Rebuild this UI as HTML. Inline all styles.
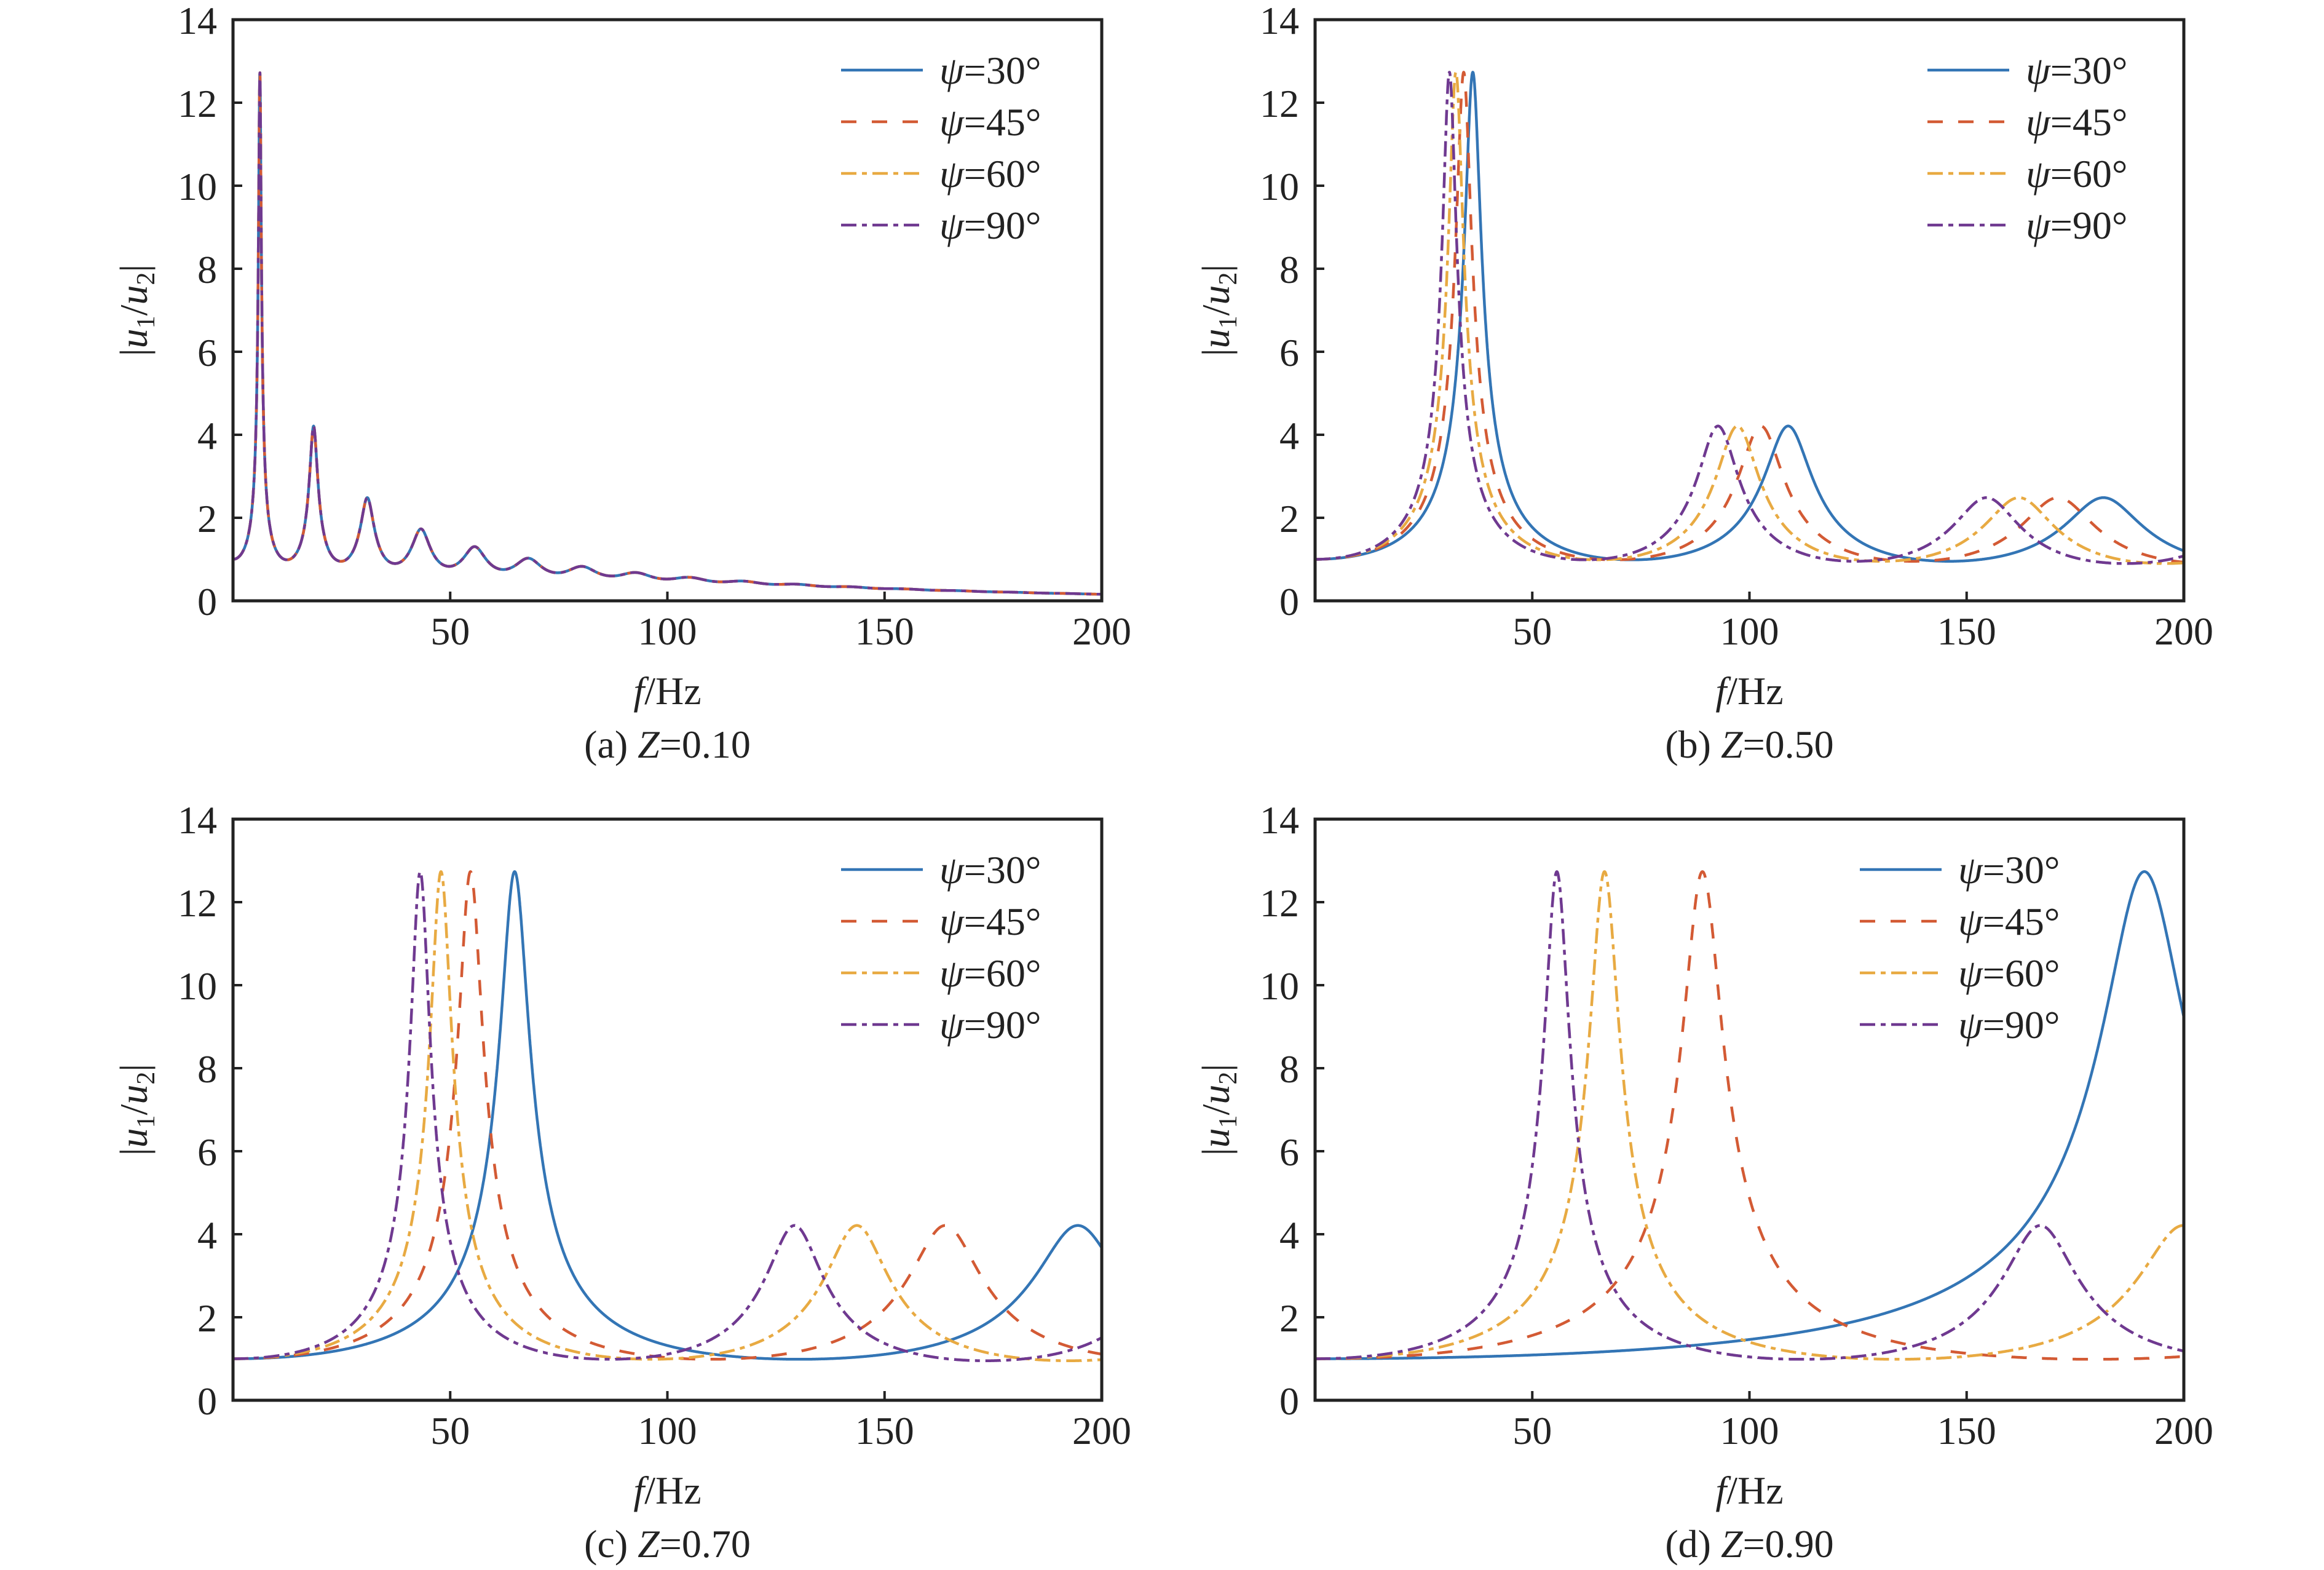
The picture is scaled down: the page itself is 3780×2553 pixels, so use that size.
<!DOCTYPE html>
<html><head><meta charset="utf-8">
<style>
html,body{margin:0;padding:0;background:#fff;}
svg, svg text{font-family:"Liberation Serif","Times New Roman",serif;}
</style></head>
<body>
<svg id="fig" width="3780" height="2548" viewBox="0 0 3780 2548" xmlns="http://www.w3.org/2000/svg" font-family="Liberation Serif, serif"></svg>
<script>
// ---- data ----
const seriesLabels = ["30", "45", "60", "90"];
const panelLetters = ["a", "b", "c", "d"];
const panelZ = ["0.10", "0.50", "0.70", "0.90"];
// fundamental resonance frequency (Hz) of each series, per panel
const fundamentalA = [6.2, 6.2, 6.2, 6.2];
const fundamentalB = [36.4, 34.3, 32.5, 31.0];
const fundamentalC = [65.0, 54.8, 48.0, 43.2];
const fundamentalD = [191.4, 89.4, 66.8, 55.8];
const dampingRatio = [0.05, 0.05, 0.05, 0.05];
const xTicks = [50, 100, 150, 200];
const yTicks = [0, 2, 4, 6, 8, 10, 12, 14];

const colors = ["#3375b5", "#d35a34", "#e8aa42", "#6f3990"];
const dashes = ["none", "25,25", "25,9,8,9", "25,9,8,9"];
const NS = "http://www.w3.org/2000/svg";
const FONT = "Liberation Serif, Times New Roman, serif";
const svg = document.getElementById("fig");
function mk(tag, attrs, parent) {
  const e = document.createElementNS(NS, tag);
  for (const k in attrs) e.setAttribute(k, attrs[k]);
  if (tag === "text") e.setAttribute("font-family", FONT);
  (parent || svg).appendChild(e);
  return e;
}
const W = 1413, H = 945;
const origins = [[379, 32], [2139, 32], [379, 1332], [2139, 1332]];
const legendX = [1368, 3135, 1368, 3025];
const fundamentals = [fundamentalA, fundamentalB, fundamentalC, fundamentalD];

function response(f, f1, xi) {
  const x = Math.PI / 2 * f / f1;
  const c = Math.cos(x), s = Math.sinh(xi * x);
  return 1 / Math.sqrt(c * c + s * s);
}

for (let p = 0; p < 4; p++) {
  const [L, T] = origins[p];
  const R = L + W, B = T + H;
  const sx = v => L + v / 200 * W;
  const sy = v => B - v / 14 * H;
  const g = mk("g", {});
  
  
  const cp = mk("clipPath", { id: "clip" + p }, g);
  mk("rect", { x: L, y: T, width: W, height: H }, cp);

  const cg = mk("g", { "clip-path": "url(#clip" + p + ")" }, g);
  for (let s = 0; s < 4; s++) {
    let d = "";
    for (let f = 0; f <= 200.0001; f += 0.05) {
      const y = response(f, fundamentals[p][s], dampingRatio[s]);
      d += (d ? "L" : "M") + sx(f).toFixed(1) + "," + sy(Math.min(y, 20)).toFixed(1);
    }
    const path = mk("path", { d: d, fill: "none", stroke: colors[s], "stroke-width": 4.5,
      "stroke-dasharray": dashes[s], "stroke-linejoin": "round" }, cg);
    
    
  }

  const fr = mk("rect", { x: L, y: T, width: W, height: H, fill: "none", stroke: "#222", "stroke-width": 5 }, g);
  
  

  for (const t of xTicks) {
    const X = sx(t);
    mk("line", { x1: X, y1: B, x2: X, y2: B - 15, stroke: "#222", "stroke-width": 4 }, g);
    const tx = mk("text", { x: X, y: B + 71, "font-size": 64, "text-anchor": "middle", fill: "#222" }, g);
    tx.textContent = t;
    
    
  }
  for (const t of yTicks) {
    const Y = sy(t);
    mk("line", { x1: L, y1: Y, x2: L + 15, y2: Y, stroke: "#222", "stroke-width": 4 }, g);
    const ty = mk("text", { x: L - 26, y: Y + 23, "font-size": 64, "text-anchor": "end", fill: "#222" }, g);
    ty.textContent = t;
    
    
  }
  const yl = mk("text", { x: 0, y: 0, "font-size": 64, "text-anchor": "middle", fill: "#222",
    transform: "translate(" + (L - 140) + "," + ((T + B) / 2) + ") rotate(-90)" }, g);
  
  
  yl.innerHTML = '|<tspan font-style="italic">u</tspan><tspan font-size="42" dy="12">1</tspan><tspan dy="-12">/</tspan><tspan font-style="italic">u</tspan><tspan font-size="42" dy="12">2</tspan><tspan dy="-12">|</tspan>';
  const xl = mk("text", { x: (L + R) / 2, y: B + 168, "font-size": 64, "text-anchor": "middle", fill: "#222" }, g);
  
  
  xl.innerHTML = '<tspan font-style="italic">f</tspan>/Hz';
  const cap = mk("text", { x: (L + R) / 2, y: B + 255, "font-size": 64, "text-anchor": "middle", fill: "#222" }, g);
  
  
  cap.innerHTML = '(' + panelLetters[p] + ') <tspan font-style="italic">Z</tspan>=' + panelZ[p];

  const lg = mk("g", {}, g);
  
  
  for (let s = 0; s < 4; s++) {
    const Y = T + 82 + s * 84;
    const e = mk("g", {}, lg);
    
    
    mk("line", { x1: legendX[p], y1: Y, x2: legendX[p] + 133, y2: Y, stroke: colors[s],
      "stroke-width": 4.5, "stroke-dasharray": dashes[s] }, e);
    const lt = mk("text", { x: legendX[p] + 160, y: Y + 22, "font-size": 64, fill: "#222" }, e);
    lt.innerHTML = '<tspan font-style="italic">ψ</tspan>=' + seriesLabels[s] + '°';
  }
}
</script>
</body></html>
